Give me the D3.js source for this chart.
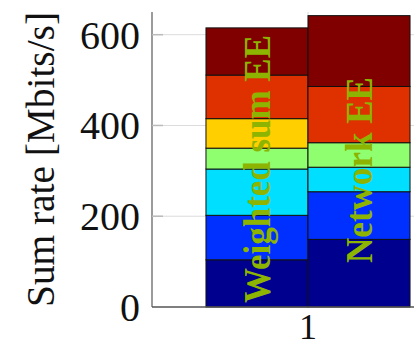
<!DOCTYPE html>
<html>
<head>
<meta charset="utf-8">
<script src="https://cdn.jsdelivr.net/npm/d3@7"></script>
<style>
  body { margin: 0; background: #fff; }
  text { font-family: "Liberation Serif", "DejaVu Serif", serif; }
</style>
</head>
<body>
<svg id="chart" width="414" height="347"></svg>
<script>
// data
const groups = [1];
const seriesNames = ["Weighted sum EE", "Network EE"];
const segmentColors = ["#00008f", "#0030ff", "#00dfff", "#8fff70", "#ffcf00", "#df3000", "#800000"];
const weightedSum = [104, 98, 102, 46, 65, 96, 104];
const networkEE = [149, 105, 54, 54, 0, 124, 156];
const yTicks = [0, 200, 400, 600];

const width = 414;
const height = 347;
const margin = { top: 12, right: -50, bottom: 40, left: 152 };

const svg = d3.select("#chart");

const x = d3.scaleLinear()
  .domain([0.5, 1.5])
  .range([margin.left, width - margin.right]);

const y = d3.scaleLinear()
  .domain([0, 650])
  .range([height - margin.bottom, margin.top]);

const barWidth = 0.327; // in x units

// grid
svg.append("g")
  .selectAll("line")
  .data(yTicks.filter(d => d > 0))
  .enter()
  .append("line")
  .attr("x1", x(0.5))
  .attr("x2", x(1.5))
  .attr("y1", d => y(d))
  .attr("y2", d => y(d))
  .attr("stroke", "#dcdcdc")
  .attr("stroke-width", 1);

svg.append("line")
  .attr("x1", x(1)).attr("x2", x(1))
  .attr("y1", y(650)).attr("y2", y(0))
  .attr("stroke", "#dcdcdc");

// bars
const allSeries = [weightedSum, networkEE];
allSeries.forEach((vals, si) => {
  const offset = si === 0 ? -barWidth : 0;
  let acc = 0;
  const stacks = vals.map((v, i) => {
    const s = { y0: acc, y1: acc + v, color: segmentColors[i] };
    acc += v;
    return s;
  }).filter(s => s.y1 > s.y0);

  svg.append("g")
    .selectAll("rect")
    .data(stacks)
    .enter()
    .append("rect")
    .attr("x", x(groups[0] + offset))
    .attr("width", x(groups[0] + offset + barWidth) - x(groups[0] + offset))
    .attr("y", d => y(d.y1))
    .attr("height", d => y(d.y0) - y(d.y1))
    .attr("fill", d => d.color)
    .attr("stroke", "#111")
    .attr("stroke-width", 1);
});

// series labels in bars
const labelLens = [268, 186];
seriesNames.forEach((name, si) => {
  const cx = x(groups[0] + (si === 0 ? -barWidth / 2 : barWidth / 2));
  const cy = si === 0 ? 169 : 170;
  svg.append("text")
    .attr("transform", `translate(${cx + 13},${cy}) rotate(-90)`)
    .attr("text-anchor", "middle")
    .attr("font-size", 38)
    .attr("font-weight", "bold")
    .attr("fill", "#8cb400")
    .attr("textLength", labelLens[si])
    .attr("lengthAdjust", "spacingAndGlyphs")
    .text(name);
});

// axes
svg.append("line")
  .attr("x1", margin.left).attr("x2", margin.left)
  .attr("y1", y(650)).attr("y2", y(0))
  .attr("stroke", "#7a7a7a").attr("stroke-width", 1.5);
svg.append("line")
  .attr("x1", margin.left).attr("x2", width)
  .attr("y1", y(0)).attr("y2", y(0))
  .attr("stroke", "#555").attr("stroke-width", 1.5);

const yAxis = svg.append("g");
yAxis.selectAll("line")
  .data(yTicks.filter(d => d > 0))
  .enter()
  .append("line")
  .attr("x1", margin.left).attr("x2", margin.left + 11)
  .attr("y1", d => y(d)).attr("y2", d => y(d))
  .attr("stroke", "#bbb").attr("stroke-width", 1.5);

yAxis.selectAll("text")
  .data(yTicks)
  .enter()
  .append("text")
  .attr("x", 140)
  .attr("y", d => y(d) + 14)
  .attr("text-anchor", "end")
  .attr("font-size", 40)
  .attr("fill", "#111")
  .text(d => d);

svg.append("g")
  .selectAll("text")
  .data(groups)
  .enter()
  .append("text")
  .attr("x", d => x(d))
  .attr("y", 339)
  .attr("text-anchor", "middle")
  .attr("font-size", 36)
  .attr("fill", "#111")
  .text(d => d);

svg.append("text")
  .attr("transform", `translate(54,${(y(0) + y(650)) / 2}) rotate(-90)`)
  .attr("text-anchor", "middle")
  .attr("font-size", 39)
  .attr("fill", "#111")
  .attr("textLength", 295)
  .attr("lengthAdjust", "spacingAndGlyphs")
  .text("Sum rate [Mbits/s]");
</script>
</body>
</html>
